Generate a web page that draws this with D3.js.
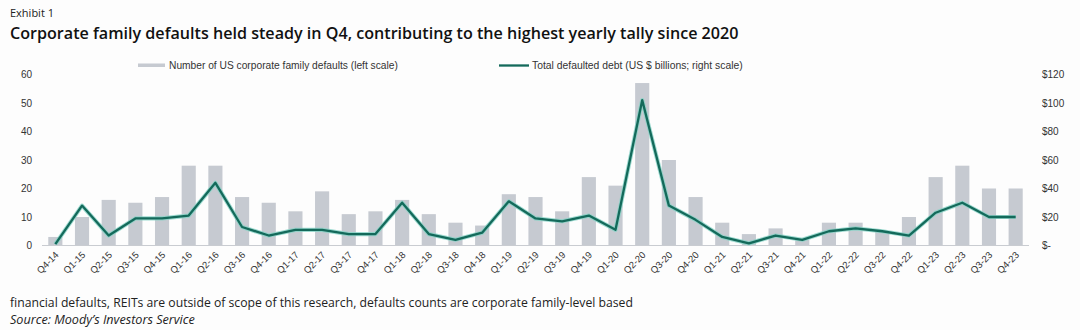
<!DOCTYPE html>
<html>
<head>
<meta charset="utf-8">
<script src="https://cdn.jsdelivr.net/npm/d3@7"></script>
<style>
  html, body { margin: 0; padding: 0; background: #fdfdfd; }
  svg { display: block; }
</style>
</head>
<body>
<svg id="chart" width="1080" height="330"></svg>
<script>
// Quarter labels
const quarters = [
  "Q4-14",
  "Q1-15","Q2-15","Q3-15","Q4-15",
  "Q1-16","Q2-16","Q3-16","Q4-16",
  "Q1-17","Q2-17","Q3-17","Q4-17",
  "Q1-18","Q2-18","Q3-18","Q4-18",
  "Q1-19","Q2-19","Q3-19","Q4-19",
  "Q1-20","Q2-20","Q3-20","Q4-20",
  "Q1-21","Q2-21","Q3-21","Q4-21",
  "Q1-22","Q2-22","Q3-22","Q4-22",
  "Q1-23","Q2-23","Q3-23","Q4-23"
];

// Number of US corporate family defaults (left scale)
const defaultCounts = [
  3,
  10, 16, 15, 17,
  28, 28, 17, 15,
  12, 19, 11, 12,
  16, 11, 8, 7,
  18, 17, 12, 24,
  21, 57, 30, 17,
  8, 4, 6, 2,
  8, 8, 5, 10,
  24, 28, 20, 20
];

// Total defaulted debt, US $ billions (right scale)
const defaultedDebt = [
  1,
  28, 7, 19, 19,
  21, 44, 13, 7,
  11, 11, 8, 8,
  30, 8, 4, 9,
  31, 19, 17, 21,
  11, 102, 28, 18,
  6, 1.5, 7, 4,
  10, 12, 10, 7,
  23, 30, 20, 20
];

const leftTicks = [0, 10, 20, 30, 40, 50, 60];
const rightTicks = [0, 20, 40, 60, 80, 100, 120];

const legendLabels = [
  "Number of US corporate family defaults (left scale)",
  "Total defaulted debt (US $ billions; right scale)"
];

const titleText = "Corporate family defaults held steady in Q4, contributing to the highest yearly tally since 2020";
const exhibitText = "Exhibit 1";
const noteText = "financial defaults, REITs are outside of scope of this research, defaults counts are corporate family-level based";
const sourceText = "Source: Moody\u2019s Investors Service";

const barColor = "#c6cad1";
const lineColor = "#146a5b";
const haloColor = "#86d2c6";
const textColor = "#222";
const axisFont = "'Liberation Sans', Arial, sans-serif";
const bodyFont = "'Open Sans', 'Noto Sans', sans-serif";

const svg = d3.select("#chart");

const plot = { left: 42, right: 1029, top: 74.5, bottom: 245.5 };

const x = d3.scaleBand()
  .domain(quarters)
  .range([plot.left, plot.right])
  .paddingInner(0.47)
  .paddingOuter(0.235);

const yLeft = d3.scaleLinear().domain([0, 60]).range([plot.bottom, plot.top]);
const yRight = d3.scaleLinear().domain([0, 120]).range([plot.bottom, plot.top]);

// fit a text element to a target width by adjusting its font size
function fitWidth(sel, target) {
  const node = sel.node();
  const fs = parseFloat(sel.attr("font-size"));
  const w = node.getComputedTextLength();
  if (w > 0) sel.attr("font-size", (fs * target / w).toFixed(2));
}

// Header
svg.append("text")
  .attr("x", 10).attr("y", 17)
  .attr("font-family", bodyFont)
  .attr("font-size", 11)
  .attr("fill", textColor)
  .text(exhibitText);

const title = svg.append("text")
  .attr("x", 10).attr("y", 39)
  .attr("font-family", bodyFont)
  .attr("font-weight", 600)
  .attr("font-size", 17)
  .attr("fill", "#111")
  .text(titleText);
fitWidth(title, 729);

// Bars
svg.append("g")
  .selectAll("rect")
  .data(quarters)
  .join("rect")
  .attr("x", d => x(d))
  .attr("width", x.bandwidth())
  .attr("y", (d, i) => yLeft(defaultCounts[i]))
  .attr("height", (d, i) => yLeft(0) - yLeft(defaultCounts[i]))
  .attr("fill", barColor);

// Baseline
svg.append("line")
  .attr("x1", plot.left).attr("x2", plot.right)
  .attr("y1", plot.bottom).attr("y2", plot.bottom)
  .attr("stroke", "#c9ccd1")
  .attr("stroke-width", 1);

// Defaulted debt line
const line = d3.line()
  .x((d, i) => x(quarters[i]) + x.bandwidth() / 2)
  .y(d => yRight(d));

svg.append("path")
  .datum(defaultedDebt)
  .attr("d", line)
  .attr("fill", "none")
  .attr("stroke", haloColor)
  .attr("stroke-width", 4.2)
  .attr("stroke-linejoin", "round")
  .attr("opacity", 0.8);

svg.append("path")
  .datum(defaultedDebt)
  .attr("d", line)
  .attr("fill", "none")
  .attr("stroke", lineColor)
  .attr("stroke-width", 2.3)
  .attr("stroke-linejoin", "round");

// Left axis
const leftAxis = d3.axisLeft(yLeft).tickValues(leftTicks).tickSize(0).tickPadding(0);
const gL = svg.append("g").attr("transform", "translate(32,0)").call(leftAxis);
gL.select(".domain").remove();
gL.selectAll("text")
  .attr("font-family", axisFont)
  .attr("font-size", 10)
  .attr("fill", "#333");

// Right axis
const rightAxis = d3.axisRight(yRight)
  .tickValues(rightTicks)
  .tickSize(0).tickPadding(0)
  .tickFormat(d => d === 0 ? "$-" : "$" + d);
const gR = svg.append("g").attr("transform", "translate(1042,0)").call(rightAxis);
gR.select(".domain").remove();
gR.selectAll("text")
  .attr("font-family", axisFont)
  .attr("font-size", 10)
  .attr("fill", "#333");

// X axis labels, rotated
const xAxis = d3.axisBottom(x).tickSize(0).tickPadding(0);
const gX = svg.append("g").attr("transform", `translate(0,${plot.bottom})`).call(xAxis);
gX.select(".domain").remove();
gX.selectAll("text")
  .attr("font-family", axisFont)
  .attr("font-size", 9.5)
  .attr("fill", "#333")
  .attr("text-anchor", "end")
  .attr("dy", null)
  .attr("y", 0)
  .attr("transform", "translate(4,10) rotate(-45)");

// Legend
const legend = svg.append("g").attr("font-family", axisFont).attr("fill", "#333");
legend.append("rect")
  .attr("x", 138).attr("y", 63.5).attr("width", 27).attr("height", 3.5)
  .attr("fill", barColor);
const leg1 = legend.append("text").attr("x", 169).attr("y", 68.5)
  .attr("font-size", 9.5).text(legendLabels[0]);
fitWidth(leg1, 229);
legend.append("line")
  .attr("x1", 499).attr("x2", 529).attr("y1", 65.5).attr("y2", 65.5)
  .attr("stroke", lineColor).attr("stroke-width", 2.3);
const leg2 = legend.append("text").attr("x", 532).attr("y", 68.5)
  .attr("font-size", 9.5).text(legendLabels[1]);
fitWidth(leg2, 211);

// Footer
const note = svg.append("text")
  .attr("x", 10).attr("y", 307)
  .attr("font-family", bodyFont)
  .attr("font-size", 12)
  .attr("fill", textColor)
  .text(noteText);
fitWidth(note, 623);

const src = svg.append("text")
  .attr("x", 10).attr("y", 324)
  .attr("font-family", bodyFont)
  .attr("font-style", "italic")
  .attr("font-size", 12)
  .attr("fill", textColor)
  .text(sourceText);
fitWidth(src, 185);
</script>
</body>
</html>
